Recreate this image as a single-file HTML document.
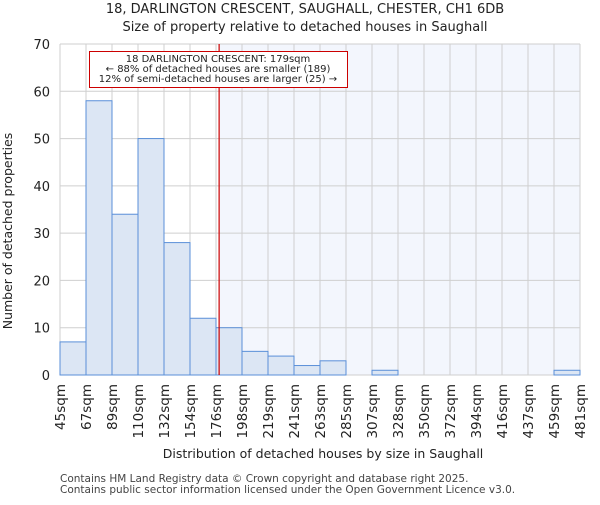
<!DOCTYPE html>
<html><head><meta charset="utf-8"><style>
body{margin:0;background:#fff}
svg{font-family:"DejaVu Sans","Liberation Sans",sans-serif}
</style></head><body>
<svg width="600" height="500" xmlns="http://www.w3.org/2000/svg">
<text x="305" y="13" text-anchor="middle" font-size="13" fill="#222">18, DARLINGTON CRESCENT, SAUGHALL, CHESTER, CH1 6DB</text>
<text x="305" y="31" text-anchor="middle" font-size="13" fill="#222">Size of property relative to detached houses in Saughall</text>
<g id="plot"></g>
<text x="12" y="231" transform="rotate(-90 12 231)" text-anchor="middle" font-size="12.5" fill="#222">Number of detached properties</text>
<text x="323" y="458" text-anchor="middle" font-size="12.5" fill="#222">Distribution of detached houses by size in Saughall</text>
<text x="60" y="482" font-size="10.5" fill="#444">Contains HM Land Registry data © Crown copyright and database right 2025.</text>
<text x="60" y="493" font-size="10.5" fill="#444">Contains public sector information licensed under the Open Government Licence v3.0.</text>
</svg>
<script>
const tickLabels=["45sqm","67sqm","89sqm","110sqm","132sqm","154sqm","176sqm","198sqm","219sqm","241sqm","263sqm","285sqm","307sqm","328sqm","350sqm","372sqm","394sqm","416sqm","437sqm","459sqm","481sqm"];
const counts=[7,58,34,50,28,12,10,5,4,2,3,0,1,0,0,0,0,0,0,1];
const yTicks=[0,10,20,30,40,50,60,70];
const markerBinPos=6.12;
const annotation=["18 DARLINGTON CRESCENT: 179sqm","← 88% of detached houses are smaller (189)","12% of semi-detached houses are larger (25) →"];
const NS="http://www.w3.org/2000/svg";
const g=document.getElementById('plot');
const L=60,R=580,T=44,B=375,yMax=70;
const bw=(R-L)/counts.length;
const x=i=>L+i*bw;
const y=v=>B-(v/yMax)*(B-T);
function mk(t,a){const e=document.createElementNS(NS,t);for(const k in a)e.setAttribute(k,a[k]);g.appendChild(e);return e;}
const mx=x(markerBinPos);
let e=mk('rect',{x:mx,y:T,width:R-mx,height:B-T,fill:'#f3f6fd'});


for(let i=0;i<tickLabels.length;i++){
 e=mk('line',{x1:x(i),x2:x(i),y1:T,y2:B,stroke:'#cfcfcf','stroke-width':1});
 
 
 const tx=x(i)+5;
 e=mk('text',{x:tx,y:384,transform:`rotate(-90 ${tx} 384)`,'text-anchor':'end','font-size':13.5,fill:'#222'});
 e.textContent=tickLabels[i];
 
 
}
yTicks.forEach(v=>{
 e=mk('line',{x1:L,x2:R,y1:y(v),y2:y(v),stroke:'#cfcfcf','stroke-width':1});
 
 
 e=mk('text',{x:L-10,y:y(v)+5,'text-anchor':'end','font-size':13,fill:'#222'});
 e.textContent=v;
 
 
});
counts.forEach((c,i)=>{
 if(c<=0)return;
 e=mk('rect',{x:x(i),y:y(c),width:bw,height:B-y(c),fill:'#dce6f4',stroke:'#5a8fd8','stroke-width':1});
 
 
});
e=mk('line',{x1:mx,x2:mx,y1:T,y2:B,stroke:'#cc0000','stroke-width':1.2});


e=mk('rect',{x:89.5,y:51.5,width:258,height:36,fill:'#ffffff',stroke:'#cc0000','stroke-width':1});
e.style.stroke='#cc0000';


annotation.forEach((s,i)=>{
 e=mk('text',{x:218,y:62+i*10,'text-anchor':'middle','font-size':10,fill:'#222'});
 e.textContent=s;
 
 
});
</script>
</body></html>
